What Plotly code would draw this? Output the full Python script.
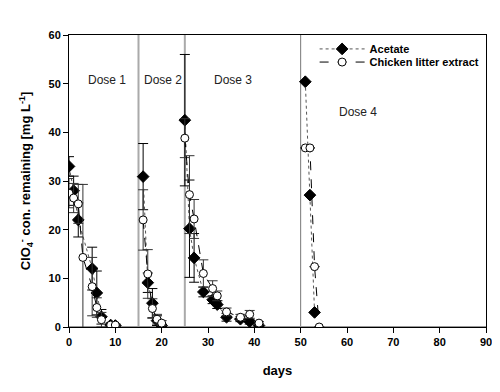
import plotly.graph_objects as go

# ---------------- data ----------------
ace_days = [0, 1, 2, 5, 6, 7, 9, 10, None, 16, 17, 18, 19, 20, None,
            25, 26, 27, 29, 31, 32, 34, 37, 39, 41, None, 51, 52, 53]
ace_vals = [33.0, 28.0, 22.0, 12.0, 7.0, 2.1, 0.4, 0.3, None, 30.9, 9.1, 4.9, 1.3, 0.3, None,
            42.5, 20.2, 14.2, 7.2, 5.6, 4.6, 2.0, 1.6, 1.1, 0.3, None, 50.4, 27.1, 3.0]
ace_err = [2.0, 3.0, 3.5, 4.4, 4.5, 1.5, 0.3, 0.2, 0, 6.8, 2.0, 3.0, 1.0, 0.3, 0,
           13.5, 10.0, 5.0, 1.0, 0.8, 0.8, 0.8, 0.5, 0.5, 0.3, 0, 0, 0, 0]

cle_days = [0, 1, 2, 3, 5, 6, 7, 9, 10, None, 16, 17, 18, 19, 20, None,
            25, 26, 27, 29, 31, 32, 34, 37, 39, 41, None, 51, 52, 53, 54]
cle_vals = [27.5, 26.5, 25.3, 14.3, 8.3, 4.0, 1.5, 0.4, 0.4, None, 22.0, 10.9, 3.8, 1.6, 0.8, None,
            38.8, 27.2, 22.2, 11.0, 7.9, 6.4, 3.1, 2.0, 2.6, 0.8, None, 36.8, 36.8, 12.4, 0.0]
cle_err = [3.0, 3.0, 4.0, 15.0, 6.0, 2.0, 1.5, 0.5, 0.3, 0, 6.2, 5.0, 2.0, 1.0, 0.5, 0,
           4.0, 8.0, 4.0, 2.8, 1.6, 1.0, 0.8, 0.6, 0.8, 0.3, 0, 0, 0, 0, 0]

dose_days = [15, 25, 50]
dose_labels = ["Dose 1", "Dose 2", "Dose 3", "Dose 4"]
dose_label_x = [8.1, 20.3, 35.3, 62.3]
dose_label_y = [50.7, 50.7, 50.7, 44.2]

x_ticks = list(range(0, 91, 10))
y_ticks = list(range(0, 61, 10))

FONT = "Liberation Sans, Arial, sans-serif"

fig = go.Figure()

fig.add_trace(go.Scatter(
    x=ace_days, y=ace_vals, name="Acetate", mode="lines+markers", legend="legend",
    line=dict(color="#555555", width=1, dash="dot"),
    marker=dict(symbol="diamond", size=9, color="black", line=dict(color="black", width=1)),
    error_y=dict(type="data", array=ace_err, visible=True, color="black", thickness=1, width=5),
    connectgaps=False,
))
fig.add_trace(go.Scatter(
    x=cle_days, y=cle_vals, name="Chicken litter extract", mode="lines+markers", legend="legend2",
    line=dict(color="black", width=1, dash="dash"),
    marker=dict(symbol="circle", size=8, color="white", line=dict(color="black", width=1)),
    error_y=dict(type="data", array=cle_err, visible=True, color="#333333", thickness=1, width=5),
    connectgaps=False,
))

for i, d in enumerate(dose_days):
    fig.add_shape(type="line", xref="x", yref="paper", x0=d, x1=d, y0=0, y1=1,
                  line=dict(color="#aaaaaa" if i < 2 else "#777777", width=2 if i < 2 else 1),
                  layer="below")
fig.add_shape(type="line", xref="paper", yref="y", x0=0, x1=1, y0=0, y1=0,
              line=dict(color="#999999", width=2), layer="below")

for lab, lx, ly in zip(dose_labels, dose_label_x, dose_label_y):
    fig.add_annotation(x=lx, y=ly, text=lab, showarrow=False, xref="x", yref="y",
                       font=dict(family=FONT, size=12, color="#222222"))

leg_common = dict(xanchor="left", yanchor="top", bgcolor="rgba(0,0,0,0)",
                  font=dict(family=FONT, size=11, color="black", weight="bold"),
                  itemwidth=45)
fig.update_layout(
    width=500, height=392,
    margin=dict(l=61, r=22, t=27, b=73),
    paper_bgcolor="white", plot_bgcolor="white",
    font=dict(family=FONT, color="black"),
    showlegend=True,
    legend=dict(x=0.589, y=1.002, **leg_common),
    legend2=dict(x=0.589, y=0.957, **leg_common),
)
fig.update_xaxes(
    range=[0, 90], tickvals=x_ticks, ticks="outside", ticklen=5, tickcolor="black",
    showline=True, linecolor="black", linewidth=1, mirror=True, showgrid=False, zeroline=False,
    tickfont=dict(family=FONT, size=11, color="black", weight="bold"),
    title=dict(text="<b>days</b>", font=dict(family=FONT, size=13, color="black"), standoff=18),
)
fig.update_yaxes(
    range=[0, 60], tickvals=y_ticks, ticks="outside", ticklen=5, tickcolor="black",
    showline=True, linecolor="black", linewidth=1, mirror=True, showgrid=False, zeroline=False,
    tickfont=dict(family=FONT, size=11, color="black", weight="bold"),
    title=dict(text="<b>ClO<sub>4</sub><sup>-</sup> con. remaining [mg L<sup>-1</sup>]</b>",
               font=dict(family=FONT, size=13, color="black"), standoff=14),
)

fig.write_html("out.html")
